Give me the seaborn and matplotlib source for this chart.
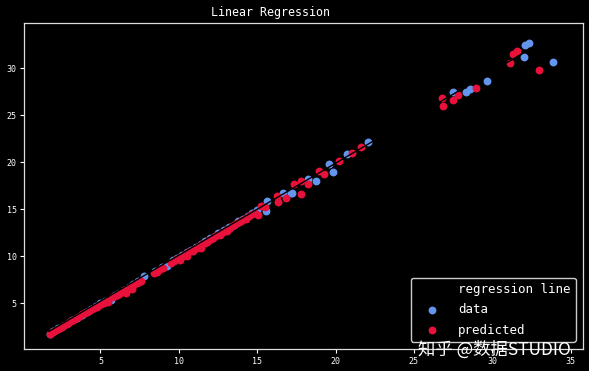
import matplotlib
matplotlib.use("Agg")
import matplotlib.pyplot as plt
import seaborn as sns
import pandas as pd

# ---- data ----
reg_x = [1.7, 34.3]
reg_y = [1.97, 33.91]

data_x = [1.8, 2.0, 2.3, 2.6, 2.9, 3.2, 3.5, 3.8, 4.1, 4.4, 4.7, 5.0, 5.3, 5.68, 5.9,
          6.2, 6.5, 6.8, 7.1, 7.4, 7.78, 8.5, 8.9, 9.26, 9.6, 9.9, 10.2, 10.5, 10.8,
          11.1, 11.4, 11.7, 12.0, 12.3, 12.53, 12.9, 13.2, 13.5, 13.8, 14.1, 14.4,
          14.64, 15.0, 15.59, 15.65, 16.65, 17.17, 17.22, 18.23, 18.75, 19.6, 19.81,
          20.76, 22.09, 27.47, 28.31, 28.56, 29.68, 32.0, 32.11, 32.36, 33.88]
data_y = [1.75, 2.05, 2.3, 2.55, 2.9, 3.15, 3.45, 3.75, 4.05, 4.35, 4.65, 5.0, 5.2, 5.35,
          5.85, 6.1, 6.4, 6.75, 7.0, 7.35, 7.85, 8.4, 8.8, 8.99, 9.55, 9.85, 10.1, 10.45,
          10.7, 11.0, 11.35, 11.6, 11.9, 12.2, 12.5, 12.8, 13.1, 13.3, 13.7, 14.0, 14.3,
          14.64, 14.9, 14.81, 15.88, 16.78, 16.78, 16.78, 18.2, 18.02, 19.8, 18.98,
          20.88, 22.13, 27.48, 27.48, 27.84, 28.66, 31.23, 32.47, 32.76, 30.7]

pred_x = [1.75, 1.85, 1.95, 2.05, 2.15, 2.3, 2.4, 2.55, 2.7, 2.85, 3.0, 3.1, 3.25, 3.4,
          3.55, 3.7, 3.85, 4.0, 4.15, 4.3, 4.45, 4.6, 4.75, 4.9, 5.05, 5.2, 5.35, 5.5,
          5.75, 5.9, 6.05, 6.2, 6.35, 6.5, 6.6, 6.75, 6.9, 7.0, 7.1, 7.3, 7.45, 7.6,
          8.4, 8.6, 8.8, 9.0, 9.5, 9.7, 9.85, 10.0, 10.1, 10.25, 10.4, 10.5, 10.6, 10.75,
          10.9, 11.0, 11.15, 11.3, 11.4, 11.5, 11.65, 11.8, 11.9, 12.05, 12.2, 12.3,
          12.45, 12.6, 12.7, 12.85, 13.0, 13.1, 13.25, 13.4, 13.55, 13.7, 13.85, 14.0,
          14.15, 14.3, 14.5, 14.7, 14.85, 15.06, 15.27, 15.5, 16.28, 16.33, 16.85,
          17.34, 17.8, 17.8, 18.23, 18.97, 19.28, 20.23, 21.08, 21.6, 26.77, 26.88,
          27.51, 27.83, 28.94, 31.14, 31.35, 31.56, 32.99]
pred_y = [1.7, 1.8, 1.95, 2.0, 2.1, 2.25, 2.4, 2.5, 2.65, 2.8, 2.95, 3.1, 3.2, 3.35,
          3.5, 3.6, 3.8, 3.95, 4.1, 4.2, 4.4, 4.5, 4.6, 4.85, 4.95, 5.05, 5.2, 5.1,
          5.6, 5.75, 5.85, 6.0, 6.2, 6.35, 6.1, 6.55, 6.7, 6.5, 6.9, 7.1, 7.2, 7.4,
          8.2, 8.35, 8.6, 8.75, 9.3, 9.5, 9.7, 9.8, 9.6, 10.05, 10.2, 10.0, 10.4, 10.55,
          10.6, 10.8, 10.9, 11.1, 10.9, 11.3, 11.45, 11.5, 11.7, 11.85, 11.9, 12.1,
          12.25, 12.3, 12.5, 12.6, 12.8, 12.7, 13.05, 13.2, 13.3, 13.5, 13.6, 13.8,
          13.95, 14.0, 14.3, 14.5, 14.6, 14.35, 15.34, 15.2, 16.41, 15.81, 16.24,
          17.67, 18.02, 16.6, 17.67, 19.09, 18.74, 20.16, 20.98, 21.6, 26.84, 26.05,
          26.69, 27.12, 27.91, 30.59, 31.58, 31.83, 29.84]

x_ticks = [5, 10, 15, 20, 25, 30, 35]
y_ticks = [5, 10, 15, 20, 25, 30]

# ---- style ----
plt.style.use("dark_background")
sns.set_style("dark", {"axes.facecolor": "black", "figure.facecolor": "black",
                       "axes.edgecolor": "white", "xtick.color": "white",
                       "ytick.color": "white", "text.color": "white",
                       "axes.labelcolor": "white", "xtick.bottom": True,
                       "ytick.left": True, "axes.grid": False})
plt.rcParams["font.family"] = ["DejaVu Sans Mono", "Noto Sans CJK SC"]

fig = plt.figure(figsize=(5.89, 3.71), dpi=100, facecolor="black")
ax = fig.add_axes([0.041, 0.059, 0.949, 0.878])
ax.set_facecolor("black")

reg_df = pd.DataFrame({"x": reg_x, "y": reg_y})
data_df = pd.DataFrame({"x": data_x, "y": data_y})
pred_df = pd.DataFrame({"x": pred_x, "y": pred_y})

sns.lineplot(data=reg_df, x="x", y="y", color="black", linewidth=1.0,
             label="regression line", ax=ax, zorder=3)
sns.scatterplot(data=data_df, x="x", y="y", color="#6495ED", s=32, linewidth=0,
                label="data", ax=ax, zorder=1)
sns.scatterplot(data=pred_df, x="x", y="y", color="#E8113C", s=32, linewidth=0,
                label="predicted", ax=ax, zorder=2)

ax.set_xlim(0.13, 35.8)
ax.set_ylim(0.1, 34.8)
ax.set_xticks(x_ticks)
ax.set_yticks(y_ticks)
ax.tick_params(labelsize=6, length=3, width=0.8, colors="white", pad=2.5)
ax.set_xlabel("")
ax.set_ylabel("")
for sp in ax.spines.values():
    sp.set_color("#dddddd")
    sp.set_linewidth(0.9)

ax.set_title("Linear Regression", fontsize=8.4, color="white", x=0.44, pad=5)

leg = ax.legend(loc="lower right", fontsize=9, frameon=True, facecolor="black",
                edgecolor="#cccccc", labelspacing=0.6, framealpha=1,
                handlelength=2.6, borderaxespad=0.6)
for t in leg.get_texts():
    t.set_color("white")

fig.text(418 / 589, 1 - 355 / 371, "知乎 @数据STUDIO", fontsize=12.5,
         color="white", family=["Noto Sans CJK SC", "DejaVu Sans"], va="baseline")

fig.savefig("out.png", dpi=100, facecolor="black")
